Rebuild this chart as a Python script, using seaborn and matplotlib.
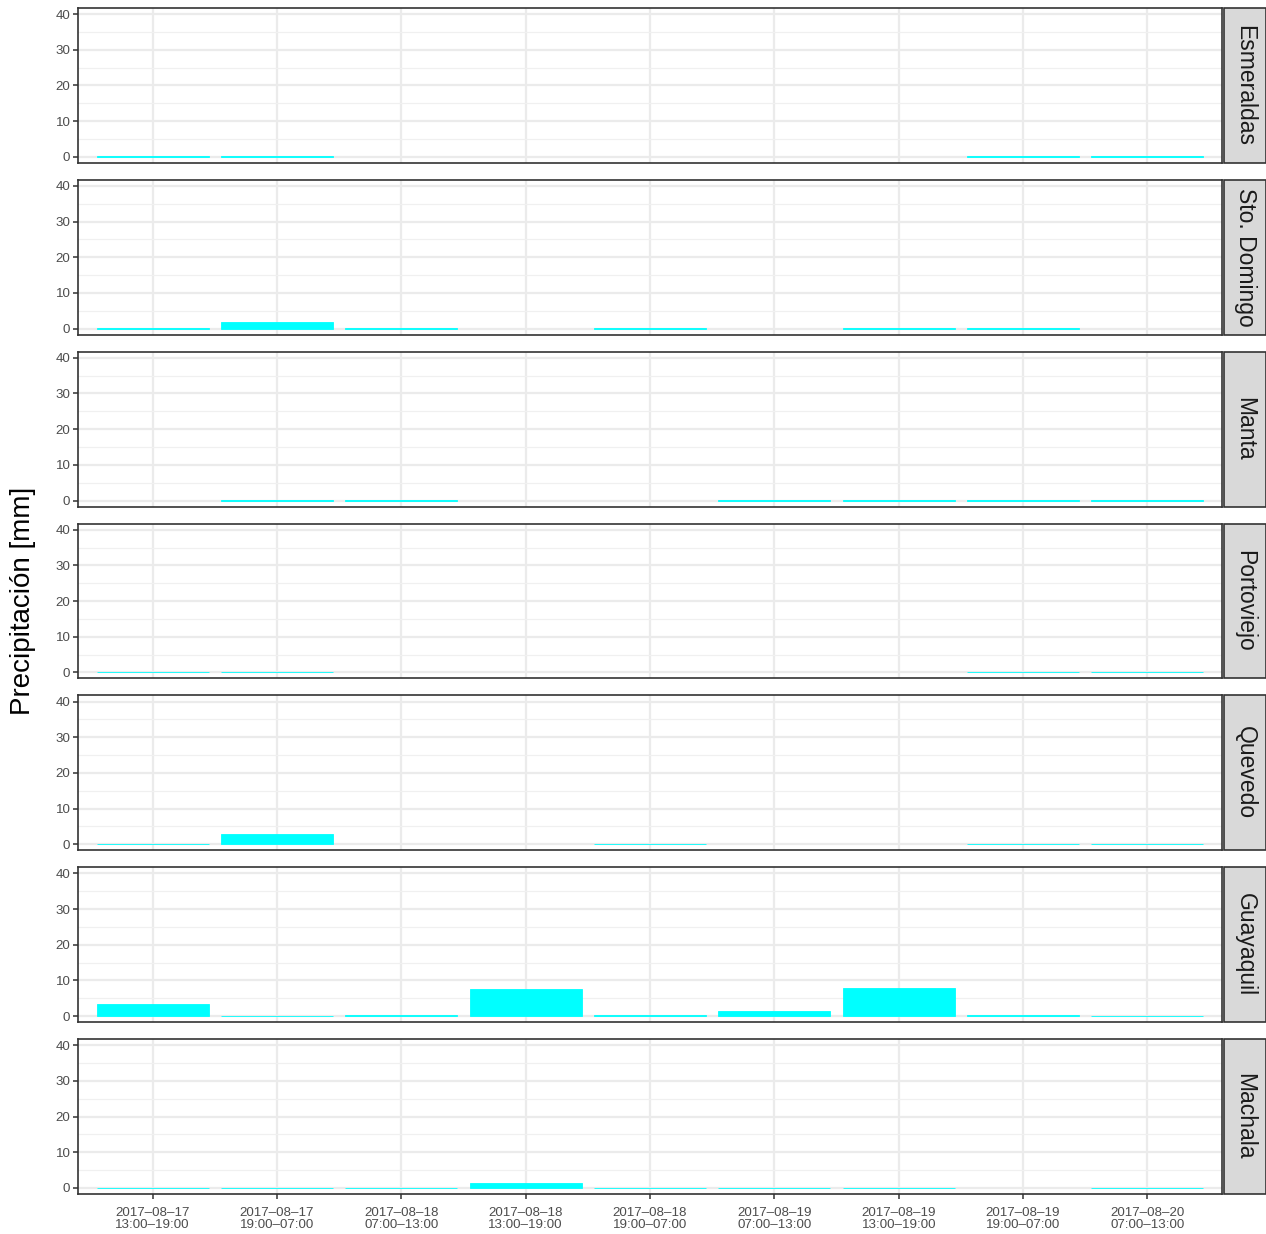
import numpy as np
import pandas as pd
import matplotlib
matplotlib.use("Agg")
import matplotlib.pyplot as plt
from matplotlib.patches import Rectangle
from matplotlib.ticker import MultipleLocator
import seaborn as sns

sns.set_theme(style="white")
plt.rcParams['font.family'] = ['Liberation Sans', 'DejaVu Sans']

# Data (mm per period); NaN = no bar
periods = ["2017–08–17\n13:00–19:00", "2017–08–17\n19:00–07:00",
           "2017–08–18\n07:00–13:00", "2017–08–18\n13:00–19:00",
           "2017–08–18\n19:00–07:00", "2017–08–19\n07:00–13:00",
           "2017–08–19\n13:00–19:00", "2017–08–19\n19:00–07:00",
           "2017–08–20\n07:00–13:00"]
stations = ["Esmeraldas", "Sto. Domingo", "Manta", "Portoviejo",
            "Quevedo", "Guayaquil", "Machala"]
nan = np.nan
esmeraldas = [0.1, 0.1, nan, nan, nan, nan, nan, 0.1, 0.1]
sto_domingo = [0.1, 1.8, 0.1, nan, 0.1, nan, 0.1, 0.1, nan]
manta = [nan, 0.1, 0.1, nan, nan, 0.1, 0.1, 0.1, 0.1]
portoviejo = [0.1, 0.1, nan, nan, nan, nan, nan, 0.1, 0.1]
quevedo = [0.1, 2.9, nan, nan, 0.1, nan, nan, 0.1, 0.1]
guayaquil = [3.4, 0.1, 0.3, 7.5, 0.3, 1.3, 7.8, 0.3, 0.1]
machala = [0.1, 0.1, 0.1, 1.4, 0.1, 0.1, 0.1, nan, 0.1]

values = [esmeraldas, sto_domingo, manta, portoviejo, quevedo, guayaquil, machala]
rows = []
for st, vals in zip(stations, values):
    for p, v in zip(periods, vals):
        rows.append({"station": st, "period": p, "precip": v})
df = pd.DataFrame(rows)

fig, axes = plt.subplots(len(stations), 1, figsize=(12.66, 12.34), dpi=100, sharex=True)
fig.subplots_adjust(left=0.0616, right=0.9653, top=0.9935, bottom=0.0324, hspace=0.11)

dark = "#333333"
for ax, st in zip(axes, stations):
    sub = df[df["station"] == st].dropna(subset=["precip"])
    sns.barplot(data=sub, x="period", y="precip", order=periods, color="#00FFFF",
                saturation=1, width=0.9, errorbar=None, ax=ax, zorder=3)
    # thin cyan outline so near-zero bars still show as a hairline
    for patch in ax.patches:
        patch.set_edgecolor("#00FFFF")
        patch.set_linewidth(0.6)
    ax.set_xlim(-0.6, len(periods) - 0.4)
    ax.set_ylim(-1.7, 41.7)
    ax.yaxis.set_major_locator(MultipleLocator(10))
    ax.yaxis.set_minor_locator(MultipleLocator(5))
    ax.grid(True, which="major", color="#EBEBEB", lw=1.6, zorder=0)
    ax.grid(True, which="minor", axis="y", color="#F0F0F0", lw=0.9, zorder=0)
    ax.set_axisbelow(True)
    for s in ax.spines.values():
        s.set_color(dark)
        s.set_linewidth(1.2)
    ax.tick_params(axis="both", which="major", direction="out", length=3.5, width=1.1,
                   color=dark, labelcolor="#4D4D4D", labelsize=9.6, pad=2,
                   left=True, bottom=True)
    ax.tick_params(axis="y", which="minor", left=False)
    ax.set_xlabel("")
    ax.set_ylabel("")
    # strip on the right
    ax.add_patch(Rectangle((1.0017, 0), 0.0368, 1, transform=ax.transAxes,
                           facecolor="#D9D9D9", edgecolor=dark, lw=1.2, clip_on=False))
    ax.text(1.0201, 0.5, st, transform=ax.transAxes, rotation=-90, ha="center",
            va="center", fontsize=16.5, color="#1A1A1A")

for ax in axes[:-1]:
    ax.tick_params(axis="x", bottom=False, labelbottom=False)
axes[-1].tick_params(axis="x", labelsize=9.6, pad=6)
for lab in axes[-1].get_xticklabels():
    lab.set_linespacing(0.95)

fig.text(0.018, 0.513, "Precipitación [mm]", rotation=90, ha="center", va="center",
         fontsize=20, color="black")

fig.savefig("out.png", dpi=100)
